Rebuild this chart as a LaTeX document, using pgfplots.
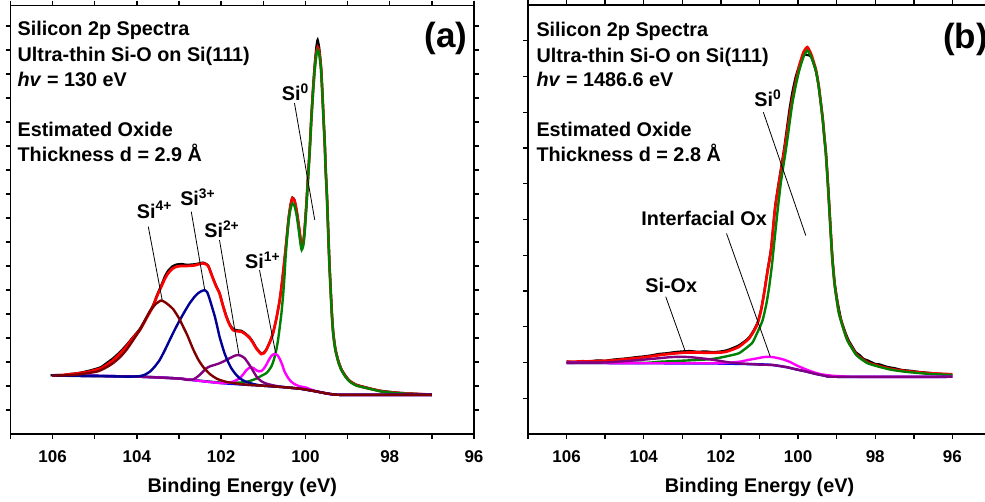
\documentclass[border=0pt]{standalone}
\usepackage{fontspec}
\setmainfont{Liberation Sans}
\usepackage{pgfplots}
\pgfplotsset{compat=1.18}
\definecolor{fitred}{RGB}{255,0,0}
\definecolor{sizero}{RGB}{0,128,0}
\definecolor{navyc}{RGB}{0,0,150}
\definecolor{maroonc}{RGB}{128,0,0}
\definecolor{purplec}{RGB}{128,0,128}
\definecolor{magentac}{RGB}{255,0,255}
\definecolor{basec}{RGB}{0,0,255}
\pgfplotsset{
 myaxis/.style={
  scale only axis, x dir=reverse, anchor=south west,
  axis line style={line width=0.85pt},
  every tick/.style={line width=0.7pt, black},
  tick align=outside,
  major tick length=2.4pt, minor tick length=2.4pt,
  xtick={96,98,...,106},
  minor xtick={95,97,...,107},
  yticklabels={},
  /pgf/number format/assume math mode=true,
  xticklabel style={font=\bfseries\fontsize{8.5}{10}\selectfont, anchor=base, yshift=-11.9pt},
  xlabel={Binding Energy (eV)},
  xlabel style={font=\bfseries\fontsize{9.9}{11}\selectfont, at={(axis description cs:0.5,0)}, anchor=base, yshift=-29.3pt},
  every axis plot/.append style={smooth, tension=0.35},
 },
}
\tikzset{
 txt/.style={anchor=base west, font=\bfseries\fontsize{9.9}{11}\selectfont, inner sep=0pt},
 lead/.style={line width=0.4pt, black},
}
\begin{document}
\begin{tikzpicture}
% ================= (a) =================
\begin{axis}[myaxis, at={(5.25pt,34pt)}, width=231.75pt, height=214.25pt,
  xmin=96, xmax=107, ymin=0, ymax=17.85, ytick={1,...,17}]
% data (black)
\addplot[black, line width=1.1pt] coordinates {
(106.05,2.44)(105.9,2.46)(105.75,2.45)(105.6,2.50)(105.45,2.52)(105.3,2.57)(105.15,2.63)(105.0,2.70)
(104.85,2.79)(104.7,2.98)(104.56,3.16)(104.4,3.42)(104.25,3.70)(104.1,4.02)(103.93,4.38)(103.78,4.84)
(103.62,5.35)(103.52,5.80)(103.42,6.20)(103.34,6.55)(103.26,6.80)(103.16,6.98)(103.06,7.06)(102.94,7.08)
(102.82,7.05)(102.70,7.06)(102.59,7.08)(102.50,7.12)(102.43,7.14)(102.37,7.10)(102.31,7.02)(102.27,6.86)
(102.2,6.52)(102.12,6.18)(102.04,5.88)(101.96,5.38)(101.88,4.93)(101.80,4.58)(101.72,4.38)(101.62,4.32)
(101.52,4.30)(101.42,4.18)(101.32,4.02)(101.24,3.82)(101.17,3.60)(101.10,3.45)(101.05,3.36)(100.99,3.39)
(100.93,3.52)(100.85,3.82)(100.77,4.22)(100.69,4.82)(100.61,5.60)(100.55,6.42)(100.50,7.22)(100.45,8.08)
(100.40,9.00)(100.35,9.60)(100.31,9.85)(100.26,9.75)(100.21,9.32)(100.16,8.72)(100.12,8.18)(100.09,7.88)
(100.05,8.02)(100.02,8.52)(99.98,9.52)(99.94,10.7)(99.90,11.85)(99.86,13.2)(99.82,14.4)(99.78,15.4)
(99.74,16.15)(99.71,16.42)(99.67,16.05)(99.63,15.3)(99.60,14.3)(99.57,13.15)(99.54,12.05)(99.52,11.05)
(99.49,9.95)(99.47,9.0)(99.45,8.0)(99.43,7.1)(99.41,6.35)(99.39,5.62)(99.37,4.95)(99.34,4.22)
(99.29,3.56)(99.22,3.06)(99.15,2.72)(99.05,2.43)(98.95,2.22)(98.8,2.06)(98.6,1.96)(98.4,1.87)
(98.17,1.79)(97.8,1.72)(97.53,1.69)(97.2,1.66)(97.0,1.65)};
% total fit (red)
\addplot[fitred, line width=1.35pt] coordinates {
(106.0,2.43)(105.75,2.46)(105.51,2.50)(105.3,2.55)(105.12,2.60)(104.98,2.67)(104.84,2.74)(104.7,2.90)
(104.56,3.08)(104.4,3.35)(104.25,3.64)(104.1,3.98)(103.93,4.33)(103.78,4.80)(103.62,5.30)(103.52,5.75)
(103.42,6.14)(103.34,6.45)(103.26,6.69)(103.16,6.88)(103.06,6.97)(102.94,7.00)(102.82,7.00)(102.70,7.01)
(102.59,7.04)(102.50,7.09)(102.43,7.11)(102.37,7.08)(102.31,7.0)(102.27,6.83)(102.2,6.50)(102.12,6.15)
(102.04,5.86)(101.96,5.35)(101.88,4.89)(101.80,4.55)(101.72,4.33)(101.62,4.28)(101.52,4.26)(101.42,4.15)
(101.32,3.99)(101.24,3.78)(101.17,3.57)(101.10,3.42)(101.05,3.33)(100.99,3.36)(100.93,3.50)(100.85,3.80)
(100.77,4.19)(100.69,4.80)(100.61,5.58)(100.55,6.40)(100.50,7.20)(100.45,8.05)(100.40,8.95)(100.35,9.55)
(100.31,9.82)(100.26,9.72)(100.21,9.30)(100.16,8.70)(100.12,8.15)(100.09,7.85)(100.05,8.00)(100.02,8.50)
(99.98,9.50)(99.94,10.65)(99.90,11.8)(99.86,13.15)(99.82,14.3)(99.78,15.25)(99.74,15.9)(99.71,16.1)
(99.67,15.9)(99.63,15.25)(99.60,14.25)(99.57,13.1)(99.54,12.0)(99.52,11.0)(99.49,9.9)(99.47,8.95)
(99.45,7.95)(99.43,7.05)(99.41,6.3)(99.39,5.58)(99.37,4.9)(99.34,4.17)(99.29,3.52)(99.22,3.02)
(99.15,2.69)(99.05,2.40)(98.95,2.20)(98.8,2.04)(98.6,1.94)(98.4,1.86)(98.17,1.77)(97.8,1.71)
(97.53,1.68)(97.0,1.64)};
% Si0 (green)
\addplot[sizero, line width=1.2pt] coordinates {
(106.0,2.43)(104.0,2.39)(103.0,2.31)(102.5,2.22)(102.0,2.14)(101.6,2.14)(101.4,2.17)(101.25,2.25)
(101.15,2.32)(101.05,2.42)(100.93,2.53)(100.87,2.65)(100.81,2.81)(100.77,2.98)(100.73,3.22)(100.69,3.52)
(100.65,3.92)(100.61,4.45)(100.57,5.03)(100.53,5.78)(100.50,6.50)(100.47,7.40)(100.44,8.10)(100.40,8.85)
(100.36,9.33)(100.31,9.61)(100.26,9.50)(100.21,9.12)(100.16,8.50)(100.12,7.95)(100.09,7.67)(100.05,7.85)
(100.02,8.36)(99.98,9.40)(99.94,10.58)(99.90,11.75)(99.86,13.08)(99.82,14.20)(99.78,15.17)(99.74,15.80)
(99.71,16.0)(99.67,15.80)(99.63,15.17)(99.60,14.20)(99.57,13.08)(99.54,12.0)(99.52,11.0)(99.49,9.90)
(99.47,8.92)(99.45,7.90)(99.43,7.0)(99.41,6.28)(99.39,5.55)(99.37,4.89)(99.34,4.15)(99.29,3.50)
(99.22,3.0)(99.15,2.67)(99.05,2.38)(98.95,2.18)(98.8,2.02)(98.6,1.93)(98.4,1.85)(98.17,1.76)
(97.8,1.70)(97.53,1.67)(97.0,1.63)};
% baseline (blue)
\addplot[basec, line width=1.2pt] coordinates {
(106.0,2.43)(105.0,2.42)(104.0,2.39)(103.5,2.36)(103.0,2.31)(102.5,2.21)(102.0,2.12)(101.5,2.06)
(101.0,2.01)(100.5,1.95)(100.1,1.88)(99.8,1.79)(99.5,1.69)(99.3,1.64)(99.0,1.63)(97.0,1.63)};
% Si1+ (magenta)
\addplot[magentac, line width=1.2pt] coordinates {
(106.0,2.43)(105.0,2.42)(104.0,2.39)(103.0,2.31)(102.5,2.21)(102.0,2.12)(101.85,2.13)(101.72,2.18)
(101.62,2.26)(101.56,2.32)(101.48,2.48)(101.40,2.66)(101.33,2.76)(101.28,2.78)(101.22,2.73)(101.17,2.66)
(101.11,2.61)(101.05,2.62)(100.99,2.72)(100.93,2.88)(100.87,3.08)(100.81,3.25)(100.76,3.32)(100.71,3.34)
(100.66,3.27)(100.61,3.13)(100.55,2.88)(100.50,2.62)(100.42,2.36)(100.34,2.18)(100.24,2.06)(100.14,1.99)
(99.98,1.93)(99.8,1.81)(99.5,1.69)(99.3,1.64)(99.0,1.63)(97.0,1.63)};
% Si2+ (purple)
\addplot[purplec, line width=1.2pt] coordinates {
(106.0,2.43)(105.0,2.42)(104.0,2.39)(103.0,2.31)(102.8,2.25)(102.67,2.27)(102.59,2.35)(102.51,2.46)
(102.43,2.60)(102.35,2.74)(102.25,2.83)(102.15,2.88)(102.05,2.94)(101.96,3.01)(101.86,3.10)(101.76,3.19)
(101.68,3.26)(101.60,3.29)(101.52,3.25)(101.44,3.15)(101.36,2.96)(101.28,2.74)(101.2,2.50)(101.13,2.32)
(101.03,2.18)(100.93,2.10)(100.8,2.04)(100.6,1.97)(100.5,1.95)(100.1,1.88)(99.8,1.79)(99.5,1.69)
(99.3,1.64)(99.0,1.63)(97.0,1.63)};
% Si3+ (navy)
\addplot[navyc, line width=1.2pt] coordinates {
(106.0,2.43)(105.0,2.42)(104.2,2.39)(103.93,2.41)(103.8,2.48)(103.69,2.60)(103.58,2.80)(103.46,3.08)
(103.34,3.48)(103.22,3.92)(103.1,4.35)(102.98,4.75)(102.86,5.12)(102.75,5.44)(102.63,5.72)(102.55,5.86)
(102.47,5.95)(102.39,5.99)(102.33,5.90)(102.27,5.60)(102.21,5.25)(102.15,4.89)(102.09,4.45)(102.04,4.06)
(101.98,3.70)(101.92,3.36)(101.84,3.02)(101.76,2.74)(101.66,2.50)(101.56,2.32)(101.44,2.20)(101.32,2.12)
(101.15,2.05)(101.0,2.01)(100.5,1.95)(100.1,1.88)(99.8,1.79)(99.5,1.69)(99.3,1.64)(99.0,1.63)(97.0,1.63)};
% Si4+ (maroon)
\addplot[maroonc, line width=1.2pt] coordinates {
(106.0,2.43)(105.5,2.46)(105.35,2.49)(105.0,2.58)(104.88,2.64)(104.7,2.80)(104.56,2.96)(104.4,3.20)
(104.25,3.50)(104.1,3.88)(103.93,4.33)(103.8,4.75)(103.69,5.12)(103.55,5.42)(103.42,5.56)(103.3,5.45)
(103.14,5.20)(103.0,4.82)(102.91,4.50)(102.8,4.10)(102.67,3.55)(102.55,3.12)(102.43,2.80)(102.27,2.50)
(102.1,2.30)(101.9,2.18)(101.6,2.09)(101.3,2.04)(101.0,2.01)(100.5,1.95)(100.1,1.88)(99.8,1.79)
(99.5,1.69)(99.3,1.64)(99.0,1.63)(97.0,1.63)};
% annotations
\node[txt] at (axis cs:106.84,16.58) {Silicon 2p Spectra};
\node[txt] at (axis cs:106.84,15.52) {Ultra-thin Si-O on Si(111)};
\node[txt] at (axis cs:106.84,14.48) {\textit{hv} = 130 eV};
\node[txt] at (axis cs:106.84,12.40) {Estimated Oxide};
\node[txt] at (axis cs:106.84,11.35) {Thickness d = 2.9 Å};
\node[font=\bfseries\fontsize{17.5}{20}\selectfont, inner sep=0pt] at (axis cs:96.66,16.48) {(a)};
\node[txt] at (axis cs:104.01,8.99) {Si\textsuperscript{4+}};
\node[txt] at (axis cs:102.98,9.51) {Si\textsuperscript{3+}};
\node[txt] at (axis cs:102.41,8.19) {Si\textsuperscript{2+}};
\node[txt] at (axis cs:101.44,6.90) {Si\textsuperscript{1+}};
\node[txt] at (axis cs:100.57,13.89) {Si\textsuperscript{0}};
\draw[lead] (axis cs:103.73,8.64) -- (axis cs:103.40,5.58);
\draw[lead] (axis cs:102.71,9.26) -- (axis cs:102.39,6.0);
\draw[lead] (axis cs:102.04,8.08) -- (axis cs:101.58,3.33);
\draw[lead] (axis cs:101.09,6.83) -- (axis cs:100.71,3.39);
\draw[lead] (axis cs:100.26,13.78) -- (axis cs:99.78,8.92);
\end{axis}
% ================= (b) =================
\begin{axis}[myaxis, at={(264pt,34pt)}, width=231.5pt, height=214.5pt,
  xmin=95, xmax=107, ymin=0, ymax=12, ytick={1,...,11}]
\addplot[black, line width=1.1pt] coordinates {
(106.0,2.03)(105.8,2.01)(105.6,2.04)(105.4,2.03)(105.2,2.06)(105.0,2.05)(104.8,2.08)(104.6,2.10)
(104.4,2.12)(104.2,2.15)(104.0,2.17)(103.8,2.20)(103.6,2.24)(103.4,2.26)(103.2,2.29)(103.0,2.31)
(102.8,2.32)(102.6,2.30)(102.4,2.31)(102.2,2.29)(102.0,2.31)(101.85,2.34)(101.7,2.40)(101.55,2.47)
(101.4,2.58)(101.27,2.70)(101.15,2.90)(101.05,3.12)(100.96,3.48)(100.88,3.96)(100.79,4.60)(100.70,5.20)
(100.60,6.32)(100.52,6.92)(100.44,7.45)(100.36,8.00)(100.29,8.55)(100.22,9.10)(100.15,9.55)(100.06,10.0)
(99.97,10.3)(99.86,10.6)(99.76,10.6)(99.66,10.55)(99.54,10.15)(99.47,9.75)(99.41,9.25)(99.36,8.80)
(99.32,8.32)(99.28,7.88)(99.25,7.40)(99.22,6.90)(99.19,6.35)(99.15,5.60)(99.11,4.92)(99.05,4.22)
(98.98,3.72)(98.88,3.18)(98.76,2.80)(98.68,2.60)(98.5,2.28)(98.42,2.22)(98.3,2.10)(98.2,2.06)
(98.0,1.96)(97.9,1.95)(97.7,1.88)(97.5,1.84)(97.3,1.79)(97.1,1.77)(96.9,1.74)(96.6,1.71)
(96.3,1.68)(96.0,1.66)};
\addplot[fitred, line width=1.35pt] coordinates {
(106.0,2.02)(105.5,2.03)(104.89,2.05)(104.5,2.09)(104.03,2.14)(103.7,2.19)(103.42,2.23)(102.91,2.28)
(102.6,2.28)(102.30,2.27)(102.0,2.28)(101.87,2.30)(101.7,2.36)(101.53,2.44)(101.4,2.55)(101.27,2.67)
(101.15,2.87)(101.05,3.09)(100.96,3.45)(100.88,3.93)(100.79,4.55)(100.70,5.14)(100.60,6.26)(100.52,6.85)
(100.44,7.37)(100.36,7.90)(100.29,8.40)(100.22,8.90)(100.16,9.30)(100.06,9.85)(99.97,10.30)(99.86,10.68)
(99.76,10.82)(99.66,10.62)(99.54,10.20)(99.47,9.78)(99.41,9.26)(99.36,8.80)(99.32,8.32)(99.28,7.87)
(99.25,7.39)(99.22,6.87)(99.19,6.32)(99.15,5.57)(99.11,4.88)(99.05,4.17)(98.94,3.39)(98.76,2.74)
(98.68,2.55)(98.5,2.24)(98.42,2.16)(98.2,2.00)(97.9,1.90)(97.6,1.82)(97.21,1.76)(96.6,1.70)(96.0,1.67)};
\addplot[sizero, line width=1.2pt] coordinates {
(106.0,1.99)(104.0,1.99)(103.6,2.02)(103.0,2.05)(102.3,2.09)(102.0,2.14)(101.7,2.21)(101.53,2.26)
(101.35,2.40)(101.18,2.56)(101.05,2.85)(100.92,3.18)(100.82,3.65)(100.75,4.11)(100.68,4.70)(100.62,5.33)
(100.53,6.26)(100.45,7.0)(100.40,7.37)(100.33,7.85)(100.27,8.30)(100.21,8.78)(100.15,9.24)(100.06,9.75)
(99.97,10.17)(99.86,10.55)(99.76,10.73)(99.66,10.55)(99.54,10.17)(99.47,9.75)(99.41,9.24)(99.36,8.78)
(99.32,8.30)(99.28,7.85)(99.25,7.37)(99.22,6.85)(99.19,6.30)(99.15,5.55)(99.11,4.86)(99.05,4.15)
(98.94,3.37)(98.76,2.72)(98.68,2.53)(98.5,2.22)(98.42,2.14)(98.2,1.98)(97.9,1.88)(97.6,1.80)
(97.21,1.74)(96.6,1.68)(96.0,1.65)};
\addplot[basec, line width=1.2pt] coordinates {
(106.0,1.99)(104.0,1.98)(102.0,1.97)(101.53,1.96)(101.0,1.95)(100.66,1.93)(100.3,1.87)(100.06,1.81)
(99.8,1.75)(99.54,1.68)(99.3,1.63)(99.02,1.60)(96.0,1.60)};
\addplot[magentac, line width=1.2pt] coordinates {
(106.0,1.99)(104.0,1.98)(102.5,1.98)(102.0,1.98)(101.53,2.02)(101.3,2.07)(101.09,2.11)(100.9,2.15)
(100.75,2.16)(100.6,2.14)(100.4,2.09)(100.2,2.01)(100.06,1.93)(99.85,1.83)(99.63,1.74)(99.4,1.67)
(99.11,1.63)(98.8,1.61)(98.5,1.60)(96.0,1.60)};
\addplot[purplec, line width=1.2pt] coordinates {
(106.0,1.99)(105.0,2.00)(104.46,2.04)(104.0,2.08)(103.6,2.12)(103.3,2.15)(103.0,2.16)(102.7,2.14)
(102.3,2.09)(102.0,2.04)(101.7,1.99)(101.3,1.96)(101.0,1.94)(100.66,1.93)(100.3,1.87)(100.06,1.81)
(99.8,1.75)(99.54,1.68)(99.3,1.63)(99.02,1.60)(96.0,1.60)};
\node[txt] at (axis cs:106.79,11.12) {Silicon 2p Spectra};
\node[txt] at (axis cs:106.79,10.40) {Ultra-thin Si-O on Si(111)};
\node[txt] at (axis cs:106.79,9.71) {\textit{hv} = 1486.6 eV};
\node[txt] at (axis cs:106.79,8.31) {Estimated Oxide};
\node[txt] at (axis cs:106.79,7.61) {Thickness d = 2.8 Å};
\node[font=\bfseries\fontsize{17.5}{20}\selectfont, inner sep=0pt] at (axis cs:95.66,11.05) {(b)};
\node[txt] at (axis cs:101.14,9.16) {Si\textsuperscript{0}};
\node[txt] at (axis cs:104.07,5.84) {Interfacial Ox};
\node[txt] at (axis cs:103.97,3.97) {Si-Ox};
\draw[lead] (axis cs:100.90,9.0) -- (axis cs:99.80,5.55);
\draw[lead] (axis cs:101.855,5.61) -- (axis cs:100.72,2.16);
\draw[lead] (axis cs:103.43,3.84) -- (axis cs:102.92,2.30);
\end{axis}
\pgfresetboundingbox
\useasboundingbox (0,0) rectangle (492.5pt,251pt);
\end{tikzpicture}
\end{document}
